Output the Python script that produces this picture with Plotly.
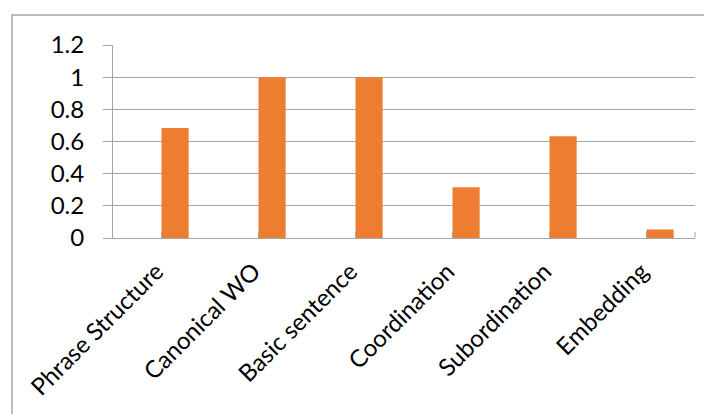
import plotly.graph_objects as go

# ── data ──────────────────────────────────────────────────────────────────────
categories = ["Phrase Structure", "Canonical WO", "Basic sentence",
              "Coordination", "Subordination", "Embedding"]
scores = [0.684, 1.0, 1.0, 0.316, 0.632, 0.053]
y_ticks = [0, 0.2, 0.4, 0.6, 0.8, 1, 1.2]
y_tick_text = ["0", "0.2", "0.4", "0.6", "0.8", "1", "1.2"]

ORANGE = "#ED7D31"
GRID = "#A6A6A6"
FONT = "Lato"

fig = go.Figure()

# bars sit just right of each category tick (empty first series in the original)
fig.add_trace(go.Bar(
    x=categories, y=scores,
    marker=dict(color=ORANGE, line=dict(width=0)),
    width=0.28, offset=0,
    showlegend=False,
))

# page body adds an 8px offset, margins compensate for it
fig.update_layout(
    width=712, height=414,
    margin=dict(l=105, r=25, t=37, b=184),
    paper_bgcolor="white",
    plot_bgcolor="white",
    font=dict(family=FONT, size=24, color="black"),
    xaxis=dict(
        type="category",
        range=[-0.5, 5.5],
        automargin=False,
        tickangle=-45,
        ticks="inside", ticklen=6, tickcolor=GRID, tickwidth=1,
        showline=True, linecolor=GRID, linewidth=1,
        showgrid=False,
        ticklabelstandoff=9,
        ticklabelshift=-5,
        tickfont=dict(family=FONT, size=24, color="black"),
    ),
    yaxis=dict(
        range=[0, 1.2],
        automargin=False,
        tickvals=y_ticks, ticktext=y_tick_text,
        ticks="outside", ticklen=9, tickcolor=GRID, tickwidth=1,
        showline=True, linecolor=GRID, linewidth=1,
        showgrid=True, gridcolor=GRID, gridwidth=1,
        zeroline=False,
        ticklabelstandoff=14,
        tickfont=dict(family=FONT, size=24, color="black"),
    ),
    shapes=[
        # chart-area border (cropped on the right and bottom in the original)
        dict(
            type="rect", xref="paper", yref="paper",
            x0=-0.1735, x1=1.2, y0=-1.5, y1=1.156,
            line=dict(color=GRID, width=1.5),
            fillcolor="rgba(0,0,0,0)",
            layer="below",
        ),
        # closing tick at the right end of the category axis
        dict(
            type="line", xref="paper", yref="paper",
            x0=1, x1=1, y0=0, y1=0.031,
            line=dict(color=GRID, width=1),
        ),
    ],
)

fig.write_html("out.html")
